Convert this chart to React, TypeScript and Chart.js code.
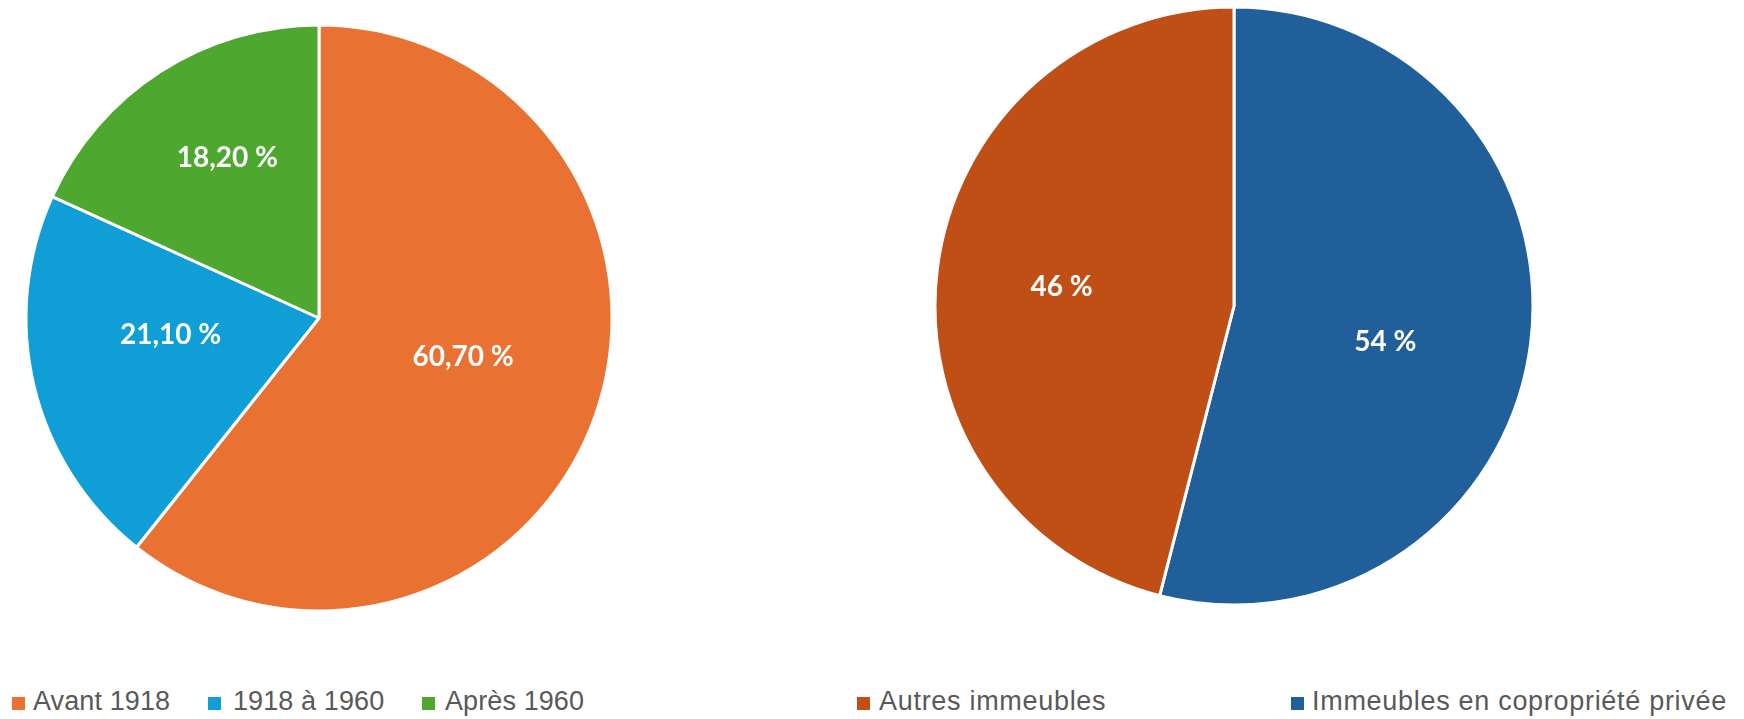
import React, { useEffect, useRef } from "react";
import { Chart, registerables } from "chart.js";

Chart.register(...registerables);

// ---- Data ----
const ageLabels = ["Avant 1918", "1918 à 1960", "Après 1960"];
const ageValues = [60.7, 21.1, 18.2];
const ageColors = ["#E97132", "#0F9ED5", "#4EA72E"];

// drawing order (clockwise from top): copropriété first, then autres
const typeLabels = ["Immeubles en copropriété privée", "Autres immeubles"];
const typeValues = [54, 46];
const typeColors = ["#215F9A", "#C04F15"];
// legend order as shown
const typeLegendOrder = [1, 0];

const fmt = (v: number, d: number) => v.toFixed(d).replace(".", ",") + " %";

const labelPlugin = {
  id: "sliceLabels",
  afterDatasetsDraw(chart: any, _args: any, opts: any) {
    const ctx = chart.ctx;
    const meta = chart.getDatasetMeta(0);
    const data = chart.data.datasets[0].data as number[];
    ctx.save();
    ctx.fillStyle = "#ffffff";
    ctx.font = "bold 28px Lato, 'Liberation Sans', sans-serif";
    ctx.textAlign = "center";
    ctx.textBaseline = "middle";
    meta.data.forEach((arc: any, i: number) => {
      const p = arc.getProps(["x", "y", "startAngle", "endAngle", "outerRadius"], true);
      const mid = (p.startAngle + p.endAngle) / 2 + ((opts.angleShift && opts.angleShift[i]) || 0) * Math.PI / 180;
      const r = p.outerRadius * (opts.radiusFrac ? opts.radiusFrac[i] : 0.55);
      ctx.fillText(fmt(data[i], opts.decimals), p.x + Math.cos(mid) * r, p.y + Math.sin(mid) * r);
    });
    ctx.restore();
  },
};

function PieCanvas(props: {
  labels: string[];
  values: number[];
  colors: string[];
  radius: number;
  decimals: number;
  radiusFrac: number[];
  angleShift: number[];
  style: React.CSSProperties;
}) {
  const ref = useRef<HTMLCanvasElement | null>(null);
  useEffect(() => {
    if (!ref.current) return;
    const chart = new Chart(ref.current, {
      type: "pie",
      data: {
        labels: props.labels,
        datasets: [
          {
            data: props.values,
            backgroundColor: props.colors,
            borderColor: "#ffffff",
            borderWidth: 3,
          },
        ],
      },
      options: {
        responsive: false,
        animation: false,
        radius: props.radius,
        layout: { padding: 0 },
        plugins: {
          legend: { display: false },
          tooltip: { enabled: false },
          sliceLabels: { decimals: props.decimals, radiusFrac: props.radiusFrac, angleShift: props.angleShift },
        } as any,
      } as any,
      plugins: [labelPlugin],
    });
    return () => chart.destroy();
  }, []);
  return <canvas ref={ref} width={600} height={600} style={{ position: "absolute", ...props.style }} />;
}

const legendText: React.CSSProperties = {
  position: "absolute",
  top: 684,
  font: "27px 'Liberation Sans', Arial, sans-serif",
  color: "#595959",
  whiteSpace: "nowrap",
  lineHeight: "34px",
};

function LegendItem(props: { x: number; textX: number; color: string; text: string; spacing: number }) {
  return (
    <>
      <div style={{ position: "absolute", left: props.x, top: 697, width: 13, height: 13, background: props.color }} />
      <div style={{ ...legendText, left: props.textX, letterSpacing: props.spacing }}>{props.text}</div>
    </>
  );
}

const ageLegendPos = [
  [12, 33],
  [208, 233],
  [422, 445],
];
const typeLegendPos = [
  [857, 879],
  [1291, 1312],
];

export default function App() {
  return (
    <div style={{ position: "fixed", left: 0, top: 0, width: 1744, height: 719, background: "#ffffff", overflow: "hidden" }}>
      <PieCanvas
        labels={ageLabels}
        values={ageValues}
        colors={ageColors}
        radius={293}
        decimals={2}
        radiusFrac={[0.51, 0.51, 0.63]}
        angleShift={[-4, 7, 3]}
        style={{ left: 19, top: 18 }}
      />
      <PieCanvas
        labels={typeLabels}
        values={typeValues}
        colors={typeColors}
        radius={299}
        decimals={0}
        radiusFrac={[0.52, 0.58]}
        angleShift={[6, -1]}
        style={{ left: 934, top: 6 }}
      />
      {ageLabels.map((l, i) => (
        <LegendItem key={l} x={ageLegendPos[i][0]} textX={ageLegendPos[i][1]} color={ageColors[i]} text={l} spacing={0.1} />
      ))}
      {typeLegendOrder.map((idx, i) => (
        <LegendItem
          key={typeLabels[idx]}
          x={typeLegendPos[i][0]}
          textX={typeLegendPos[i][1]}
          color={typeColors[idx]}
          text={typeLabels[idx]}
          spacing={0.7}
        />
      ))}
    </div>
  );
}
